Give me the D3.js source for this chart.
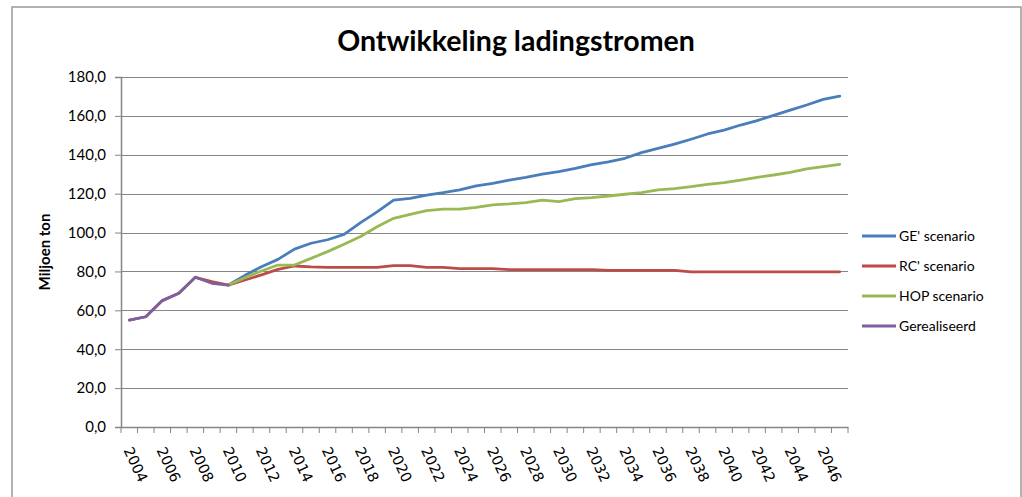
<!DOCTYPE html>
<html>
<head>
<meta charset="utf-8">
<script src="https://cdn.jsdelivr.net/npm/d3@7"></script>
<style>
	body { margin: 0; background: #fff; }
	.grid { stroke: #868686; stroke-width: 1; }
	.serie { fill: none; stroke-width: 2.8; stroke-linejoin: round; stroke-linecap: round; }
</style>
</head>
<body>
<div class="chart"></div>
<script>
var years = d3.range(2004, 2048);
var yTicks = [0, 20, 40, 60, 80, 100, 120, 140, 160, 180];

// gerealiseerd 2004-2010
var gerealiseerd = [55.0, 56.7, 65.0, 68.8, 77.0, 73.9, 73.0];
// GE' 2010-2047
var geScenario = [73.0, 78.0, 82.4, 86.2, 91.5, 94.5, 96.3, 99.1, 105.1, 110.6,
	116.7, 117.6, 119.3, 120.5, 121.9, 124.0, 125.3, 127.0, 128.4, 130.1,
	131.3, 133.0, 134.9, 136.4, 138.2, 141.1, 143.3, 145.5, 148.0, 150.7,
	152.7, 155.3, 157.6, 160.3, 163.0, 165.6, 168.5, 170.2];
// RC' 2004-2047
var rcScenario = [55.0, 56.7, 65.0, 68.8, 77.0, 74.8, 73.0, 75.6, 78.2, 81.1,
	82.8, 82.3, 82.1, 82.1, 82.1, 82.1, 83.0, 83.0, 82.1, 82.1,
	81.4, 81.4, 81.4, 80.9, 80.9, 80.9, 80.9, 80.9, 80.9, 80.5,
	80.5, 80.5, 80.5, 80.5, 79.8, 79.8, 79.8, 79.8, 79.8, 79.8,
	79.8, 79.8, 79.8, 79.8];
// HOP 2010-2047
var hopScenario = [73.0, 76.8, 80.2, 83.3, 83.3, 86.7, 90.2, 94.0, 98.0, 103.0,
	107.3, 109.4, 111.3, 112.0, 112.1, 113.0, 114.2, 114.7, 115.4, 116.7,
	115.9, 117.4, 118.0, 118.8, 119.7, 120.5, 121.9, 122.6, 123.6, 124.8,
	125.7, 127.0, 128.4, 129.6, 131.0, 132.8, 133.9, 135.1];

var seriesNames = ["GE' scenario", "RC' scenario", "HOP scenario", "Gerealiseerd"];
var seriesColors = ["#4a7ebb", "#be4b48", "#98b954", "#7d60a0"];

function fromYear(start, vals) {
	return vals.map(function(v, i) { return { year: start + i, val: v }; });
}

function buildChart() {

	var series = [
		fromYear(2010, geScenario),
		fromYear(2004, rcScenario),
		fromYear(2010, hopScenario),
		fromYear(2004, gerealiseerd)
	];

	var width = 1022,
	height = 497,
	plotLeft = 121,
	plotRight = 848,
	plotTop = 77,
	plotBottom = 427;

	var chart = d3.select("div.chart")
		.append("svg")
		.attr("width", width)
		.attr("height", height);

	// outer border
	chart.append("rect")
		.attr("x", 12)
		.attr("y", 7)
		.attr("width", 1009)
		.attr("height", 500)
		.attr("fill", "#fff")
		.attr("stroke", "#9a9a9a")
		.attr("stroke-width", 1.5);

	var x = d3.scaleBand()
		.domain(years)
		.range([plotLeft, plotRight])
		.padding(0);

	var y = d3.scaleLinear()
		.domain([0, 180])
		.range([plotBottom, plotTop]);

	var gridLayer = chart.append("g");
	var lineLayer = chart.append("g");
	var axisLayer = chart.append("g");

	gridLayer.selectAll(".grid")
		.data(yTicks.filter(function(d) { return d > 0; }))
		.enter().append("line")
		.attr("class", "grid")
		.attr("x1", plotLeft)
		.attr("x2", plotRight)
		.attr("y1", function(d) { return Math.round(y(d)) + 0.5; })
		.attr("y2", function(d) { return Math.round(y(d)) + 0.5; });

	// y axis
	var yAxis = d3.axisLeft(y)
		.tickValues(yTicks)
		.tickSize(6)
		.tickPadding(9)
		.tickFormat(function(d) { return d3.format(".1f")(d).replace(".", ","); });

	var yG = axisLayer.append("g")
		.attr("transform", "translate(" + plotLeft + ",0)")
		.call(yAxis);
	yG.select(".domain").attr("stroke", "#868686").attr("stroke-width", 1.5);
	yG.selectAll(".tick line").attr("stroke", "#868686");
	yG.selectAll(".tick text")
		.attr("fill", "#000")
		.style("font-family", "Lato")
		.style("font-size", "15px");

	// x axis, labels every second year
	var xAxis = d3.axisBottom(x)
		.tickValues(years.filter(function(d) { return (d - 2004) % 2 == 0; }))
		.tickSize(0)
		.tickFormat(function(d) { return d; });

	var xG = axisLayer.append("g")
		.attr("transform", "translate(0," + plotBottom + ")")
		.call(xAxis);
	xG.select(".domain").attr("stroke", "#868686").attr("stroke-width", 1.5);
	xG.selectAll(".tick text")
		.attr("fill", "#000")
		.attr("text-anchor", "start")
		.attr("y", 0)
		.attr("dy", 0)
		.attr("transform", "translate(-6,23) rotate(65)")
		.style("font-family", "DejaVu Sans")
		.style("font-size", "14.5px");

	// tick marks sit on the category borders
	axisLayer.selectAll(".xTick")
		.data(years.concat([null]))
		.enter().append("line")
		.attr("class", "xTick")
		.attr("x1", function(d) { return d == null ? plotRight : x(d); })
		.attr("x2", function(d) { return d == null ? plotRight : x(d); })
		.attr("y1", plotBottom)
		.attr("y2", plotBottom + 6)
		.attr("stroke", "#868686");

	var line = d3.line()
		.x(function(d) { return x(d.year) + x.bandwidth() / 2; })
		.y(function(d) { return y(d.val); })
		.curve(d3.curveLinear);

	lineLayer.selectAll(".serie")
		.data(series)
		.enter().append("path")
		.attr("class", "serie")
		.attr("d", line)
		.attr("stroke", function(d, i) { return seriesColors[i]; });

	// title
	chart.append("text")
		.attr("x", 516)
		.attr("y", 51)
		.attr("text-anchor", "middle")
		.style("font-family", "Lato")
		.style("font-weight", "bold")
		.style("font-size", "28.5px")
		.text("Ontwikkeling ladingstromen");

	chart.append("text")
		.attr("transform", "translate(50,252) rotate(-90)")
		.attr("text-anchor", "middle")
		.style("font-family", "Lato")
		.style("font-weight", "bold")
		.style("font-size", "15px")
		.text("Miljoen ton");

	// legend
	var legend = chart.append("g")
		.selectAll("g")
		.data(seriesNames)
		.enter().append("g")
		.attr("transform", function(d, i) { return "translate(862," + (236 + i * 30) + ")"; });

	legend.append("line")
		.attr("x1", 0)
		.attr("x2", 34)
		.attr("stroke", function(d, i) { return seriesColors[i]; })
		.attr("stroke-width", 2.8);

	legend.append("text")
		.attr("x", 37)
		.attr("y", 5)
		.style("font-family", "Lato")
		.style("font-size", "14px")
		.text(function(d) { return d; });
}

buildChart();
</script>
</body>
</html>
